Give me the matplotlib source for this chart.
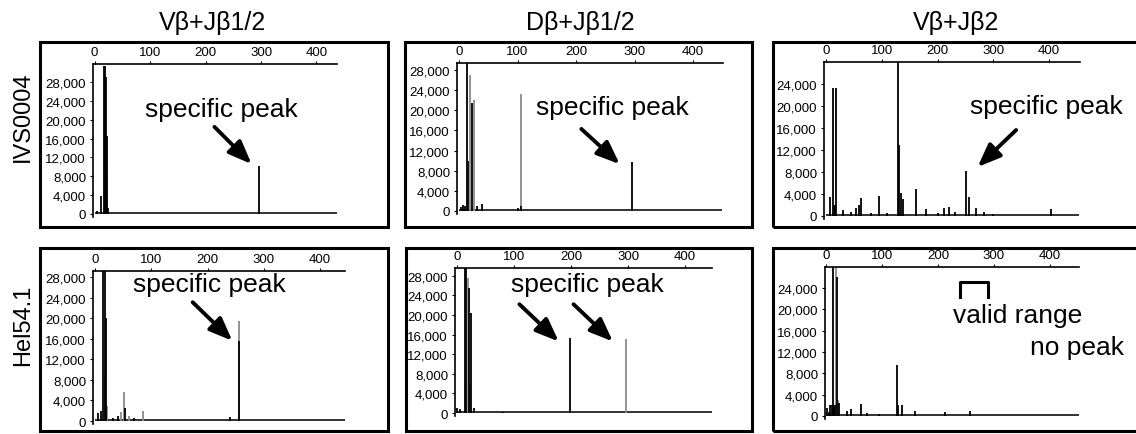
import matplotlib
matplotlib.use("Agg")
import matplotlib.pyplot as plt
from matplotlib.patches import Rectangle
from matplotlib.lines import Line2D

plt.rcParams['font.family'] = ['Liberation Sans', 'DejaVu Sans']

W, H = 1136, 435

# ---------------- data ----------------
col_titles = ["V\u03b2+J\u03b21/2", "D\u03b2+J\u03b21/2", "V\u03b2+J\u03b22"]
row_labels = ["IVS0004", "Hel54.1"]
x_ticks = [0, 100, 200, 300, 400]
y_ticks_28 = [0, 4000, 8000, 12000, 16000, 20000, 24000, 28000]
y_ticks_24 = [0, 4000, 8000, 12000, 16000, 20000, 24000]

# panel 1: Vb+Jb1/2, IVS0004
p1_black_x = [5, 12, 16, 18, 20, 22, 24, 297]
p1_black_h = [600, 3800, 31500, 31500, 29000, 16500, 1200, 10200]
p1_gray_x = [21, 23]
p1_gray_h = [9000, 3000]
p1_end = 437

# panel 2: Db+Jb1/2, IVS0004
p2_black_x = [3, 6, 10, 13, 16, 23, 30, 39, 100, 106, 296]
p2_black_h = [800, 1200, 1000, 29400, 10000, 21500, 1000, 1300, 600, 1000, 9700]
p2_gray_x = [19, 25, 106]
p2_gray_h = [27000, 22000, 23200]
p2_end = 450

# panel 3: Vb+Jb2, IVS0004
p3_black_x = [7, 12, 14, 16, 18, 30, 45, 54, 60, 63, 80, 94.5, 110, 128.6, 131,
              134, 137.5, 161, 179, 200, 211.6, 221, 231, 252, 257, 269, 283, 300, 403.6]
p3_black_h = [3500, 23300, 2000, 2000, 23300, 1000, 700, 1400, 2000, 3300, 600, 3600,
              500, 28500, 12800, 4200, 3000, 4900, 1200, 600, 1500, 1600, 800, 8200,
              3500, 1500, 800, 400, 1200]
p3_gray_x = [15]
p3_gray_h = [1500]
p3_end = 454

# panel 4: Vb+Jb1/2, Hel54.1
p4_black_x = [5, 11, 14.7, 17, 19.5, 32, 41, 53, 70, 240, 256.5]
p4_black_h = [1500, 2000, 30000, 30000, 20000, 600, 1000, 2500, 500, 700, 15600]
p4_gray_x = [17.5, 22, 47, 51.5, 60, 84.6, 256.5]
p4_gray_h = [9000, 3000, 1800, 5700, 1000, 2000, 19500]
p4_end = 444

# panel 5: Db+Jb1/2, Hel54.1
p5_black_x = [0, 4, 13, 15, 20.5, 24.6, 28.7, 80, 197]
p5_black_h = [1000, 800, 29800, 29800, 25500, 20500, 1000, 300, 15300]
p5_gray_x = [18, 22, 296]
p5_gray_h = [27500, 6000, 15200]
p5_end = 447

# panel 6: Vb+Jb2, Hel54.1
p6_black_x = [1, 5, 8, 10, 12, 14, 16, 20, 24, 37, 45, 62.5, 74, 95, 126, 129,
              136.6, 159, 213, 257]
p6_black_h = [1500, 700, 2000, 2000, 28500, 2000, 2000, 26000, 2500, 1000, 1400,
              2300, 500, 300, 9600, 2000, 2000, 1000, 700, 900]
p6_gray_x = [18, 22]
p6_gray_h = [28500, 3000]
p6_end = 452

# ---------------- layout ----------------
# axes extents in pixels: (left, top, right, bottom), plus limits
layout = [
    dict(px=(93, 65, 337, 218), xlim=(-3, 437), ylim=(-640, 31850), yt=y_ticks_28),
    dict(px=(457, 64, 723, 215), xlim=(-3.4, 451), ylim=(-600, 29400), yt=y_ticks_28),
    dict(px=(824, 63, 1080, 220), xlim=(-3.6, 455.6), ylim=(-550, 27950), yt=y_ticks_24),
    dict(px=(93, 272, 345, 425), xlim=(-3.5, 444), ylim=(-580, 29180), yt=y_ticks_28),
    dict(px=(455, 269, 712, 417), xlim=(-4, 447), ylim=(-610, 29600), yt=y_ticks_28),
    dict(px=(825, 268, 1079, 420), xlim=(-1.8, 451.8), ylim=(-570, 27950), yt=y_ticks_24),
]
boxes = [(40, 43, 388, 228), (405, 43, 752, 228), (773, 43, 1145, 228),
         (40, 249, 388, 432), (406, 249, 752, 432), (773, 249, 1145, 432)]

panels = [
    (p1_black_x, p1_black_h, p1_gray_x, p1_gray_h, p1_end),
    (p2_black_x, p2_black_h, p2_gray_x, p2_gray_h, p2_end),
    (p3_black_x, p3_black_h, p3_gray_x, p3_gray_h, p3_end),
    (p4_black_x, p4_black_h, p4_gray_x, p4_gray_h, p4_end),
    (p5_black_x, p5_black_h, p5_gray_x, p5_gray_h, p5_end),
    (p6_black_x, p6_black_h, p6_gray_x, p6_gray_h, p6_end),
]

fig = plt.figure(figsize=(W / 100, H / 100), dpi=100)


def fx(x):
    return x / W


def fy(y):
    return 1 - y / H


# outer boxes
for (l, t, r, b) in boxes:
    fig.add_artist(Rectangle((fx(l), fy(b)), fx(r - l), (b - t) / H, transform=fig.transFigure,
                             fill=False, lw=2.2, edgecolor='black', clip_on=False))

axes = []
for lay, (bx, bh, gx, gh, end) in zip(layout, panels):
    l, t, r, b = lay['px']
    ax = fig.add_axes([fx(l), fy(b), fx(r - l), (b - t) / H])
    ax.set_xlim(*lay['xlim'])
    ax.set_ylim(*lay['ylim'])
    ax.hlines(120, 0, end, colors='#222222', lw=1.3)
    ax.vlines(gx, 0, gh, colors='#8a8a8a', lw=1.3)
    ax.vlines(bx, 0, bh, colors='black', lw=1.3)
    for s in ['bottom', 'right']:
        ax.spines[s].set_visible(False)
    for s in ['top', 'left']:
        ax.spines[s].set_linewidth(1.2)
    ax.xaxis.tick_top()
    ax.set_xticks(x_ticks)
    ax.set_xticklabels([str(v) for v in x_ticks])
    ax.set_yticks(lay['yt'])
    ax.set_yticklabels([f"{v:,}" for v in lay['yt']])
    ax.tick_params(axis='x', length=2, width=0.8, pad=2, labelsize=9.5)
    ax.tick_params(axis='y', length=2.5, width=0.8, pad=2.5, labelsize=9.5)
    ax.patch.set_alpha(0)
    axes.append(ax)

# titles and row labels
title_x = [213, 580, 956]
for tx, tt in zip(title_x, col_titles):
    fig.text(fx(tx), fy(23), tt, ha='center', va='center', fontsize=18)
row_y = [117, 325]
for ry, rl in zip(row_y, row_labels):
    fig.text(fx(23), fy(ry), rl, ha='center', va='center', fontsize=17, rotation=90)

arrow_kw = dict(arrowstyle='-|>,head_length=1.0,head_width=0.4', lw=2.8, color='black',
                mutation_scale=14, shrinkA=0, shrinkB=0)


def label(ax, txt_xy, arrows):
    ax.text(txt_xy[0], txt_xy[1], "specific peak", ha='center', va='center', fontsize=19,
            clip_on=False)
    for (s, e) in arrows:
        ax.annotate("", xy=e, xytext=s, arrowprops=arrow_kw, annotation_clip=False)


label(axes[0], (228, 22300), [((216, 18500), (283, 10600))])
label(axes[1], (262, 20600), [((209, 16300), (274.6, 9300))])
label(axes[2], (396, 20000), [((341, 15600), (272, 8900))])
label(axes[3], (204, 26650), [((173.5, 23100), (244, 15600))])
label(axes[4], (229, 26300), [((109, 22200), (178, 14600)), ((204, 22200), (273, 14600))])

ax6 = axes[5]
ax6.add_line(Line2D([240, 240, 290, 290], [22300, 25200, 25200, 22300], color='black', lw=2.2,
                    clip_on=False))
ax6.text(227, 19000, "valid range", ha='left', va='center', fontsize=19, clip_on=False)
ax6.text(532, 13000, "no peak", ha='right', va='center', fontsize=19, clip_on=False)

fig.savefig("out.png", dpi=100)
